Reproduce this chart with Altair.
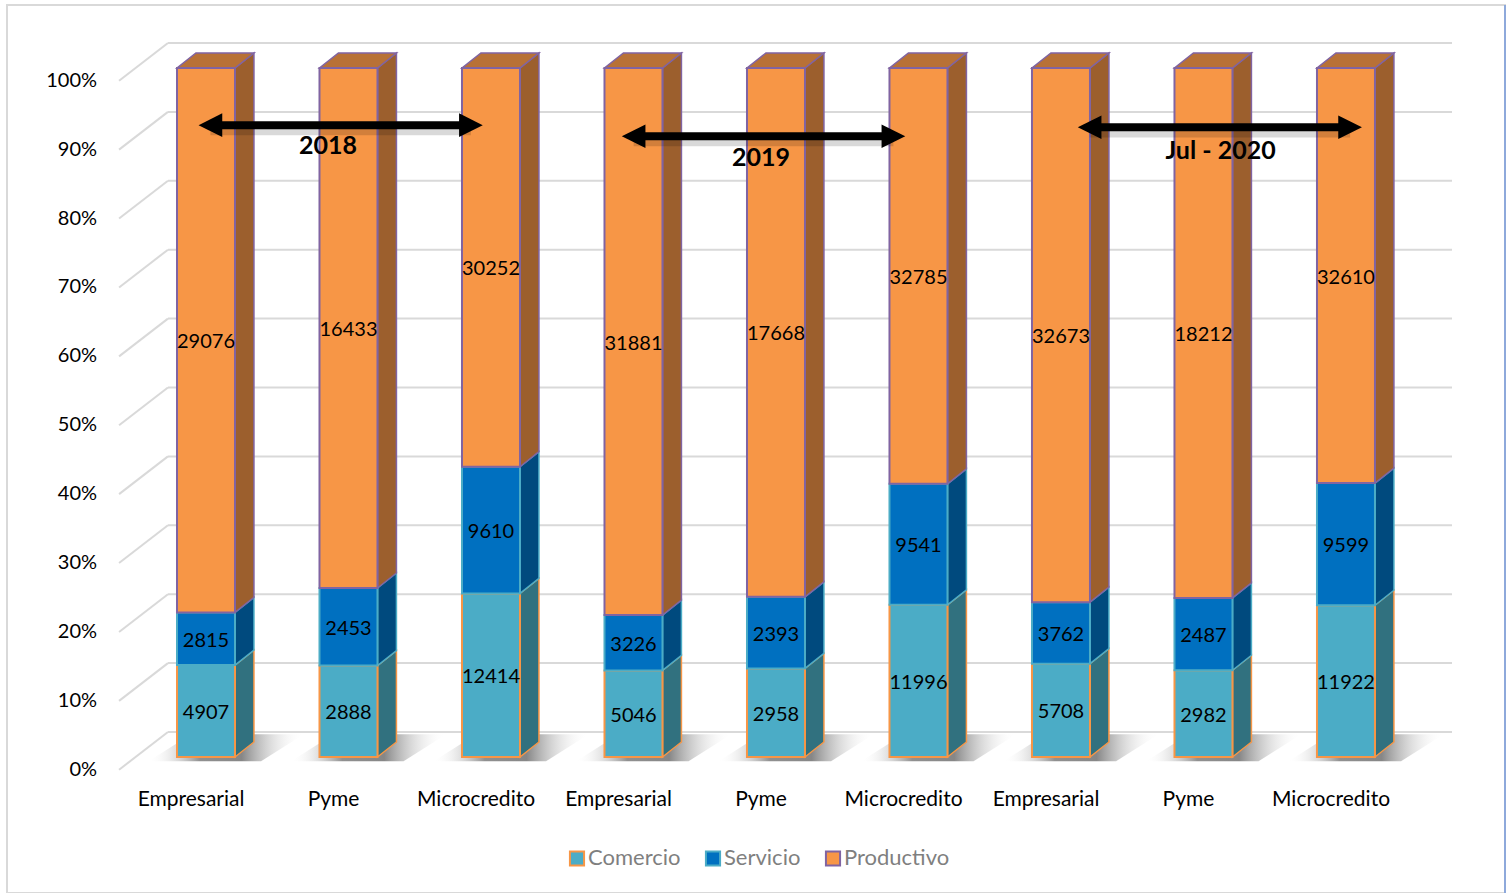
import altair as alt
import pandas as pd

# ---- data -------------------------------------------------------------
categories = ["Empresarial", "Pyme", "Microcredito"] * 3
comercio = [4907, 2888, 12414, 5046, 2958, 11996, 5708, 2982, 11922]
servicio = [2815, 2453, 9610, 3226, 2393, 9541, 3762, 2487, 9599]
productivo = [29076, 16433, 30252, 31881, 17668, 32785, 32673, 18212, 32610]

series_names = ["Comercio", "Servicio", "Productivo"]
front_colors = ["#4BACC6", "#0070C0", "#F79646"]
side_colors = ["#31717F", "#004A7E", "#9C5F2D"]
edge_colors = ["#F79646", "#4BACC6", "#8064A2"]
top_color = "#B87136"

# period annotations: label, arrow start/end (bar units), arrow level, text x, text level
period_labels = ["2018", "2019", "Jul - 2020"]
arrow_start = [-0.05, 2.92, 6.12]
arrow_end = [1.94, 4.905, 8.11]
arrow_level = [0.917, 0.901, 0.914]
text_x = [0.856, 3.895, 7.12]
text_level = [0.887, 0.869, 0.880]

tick_values = [i / 10 for i in range(11)]

# ---- pseudo-3D geometry (in scale units) ------------------------------
HALF = 0.2035            # half width of a front face
DX, DY = 0.133, 0.0218   # depth of the boxes
BACK_DY = 0.0363         # back-wall grid offset
DIAG_X0, BACK_X0, BACK_X1 = -0.61, -0.267, 8.744
LABEL_DY = -0.0185

X_DOMAIN = [-1.3965, 9.116]
Y_DOMAIN = [-0.19739, 1.09144]
xs = alt.Scale(domain=X_DOMAIN, nice=False, zero=False)
ys = alt.Scale(domain=Y_DOMAIN, nice=False, zero=False)
X = lambda f: alt.X(f, type="quantitative", scale=xs, axis=None)
Y = lambda f: alt.Y(f, type="quantitative", scale=ys, axis=None)

front_rows, side_rows, top_rows, shadow_rows = [], [], [], []
for i, cat in enumerate(categories):
    vals = [comercio[i], servicio[i], productivo[i]]
    total = sum(vals)
    xl, xr = i - HALF, i + HALF
    acc = 0.0
    for s, v in enumerate(vals):
        y0 = acc / total
        acc += v
        y1 = acc / total
        front_rows.append(dict(bar=i, cat=cat, Series=series_names[s], value=v,
                               xl=xl, xr=xr, xc=float(i), y0=y0, y1=y1,
                               ym=(y0 + y1) / 2))
        seg = f"{i}-{s}"
        for x, lo, hi in [(xr, y0, y1), (xr + DX, y0 + DY, y1 + DY)]:
            side_rows.append(dict(seg=seg, x=x, lo=lo, hi=hi,
                                  fill=side_colors[s], edge=edge_colors[s]))
    for x, lo, hi in [(xl, 1, 1), (xl + DX, 1, 1 + DY), (xr, 1, 1 + DY),
                      (xr + DX, 1 + DY, 1 + DY)]:
        top_rows.append(dict(bar=i, x=x, lo=lo, hi=hi))
    # floor shadow: a sheared footprint behind and to the right of the box
    s_lo, s_hi = -0.006, 0.033
    for x, lo, hi in [(xl - 0.2, s_lo, s_lo), (xl + 0.1, s_lo, s_hi),
                      (xr + DX + 0.05, s_lo, s_hi), (xr + DX + 0.35, s_hi, s_hi)]:
        shadow_rows.append(dict(bar=i, x=x, lo=lo, hi=hi))

front = pd.DataFrame(front_rows)
side = pd.DataFrame(side_rows)
top = pd.DataFrame(top_rows)
shadow = pd.DataFrame(shadow_rows)

grid = pd.DataFrame(dict(t=tick_values,
                         back=[t + BACK_DY for t in tick_values],
                         front=[t + LABEL_DY for t in tick_values],
                         label=[f"{int(round(t * 100))}%" for t in tick_values]))
grid["x0"], grid["xb"], grid["x1"] = DIAG_X0, BACK_X0, BACK_X1

cats = pd.DataFrame(dict(cat=categories, x=[i - 0.105 for i in range(9)],
                         y=[-0.062] * 9))

arrows = pd.DataFrame(dict(label=period_labels, a=arrow_start, b=arrow_end,
                           y=arrow_level, tx=text_x, ty=text_level))
arrows["ha"] = arrows["a"] + 0.081
arrows["hb"] = arrows["b"] - 0.081
arrows["ys"] = arrows["y"] - 0.006

FONT = "Lato"

# ---- layers -----------------------------------------------------------
back_grid = alt.Chart(grid).mark_rule(color="#D9D9D9", strokeWidth=2).encode(
    x=X("xb"), x2="x1", y=Y("back"))
diag_grid = alt.Chart(grid).mark_rule(color="#D9D9D9", strokeWidth=2).encode(
    x=X("x0"), x2="xb", y=Y("front"), y2="back")
y_labels = alt.Chart(grid).mark_text(font=FONT, fontSize=20, align="right",
                                     baseline="middle", dx=-22, color="#000000").encode(
    x=X("x0"), y=Y("front"), text="label:N")

shadow_layer = alt.Chart(shadow).mark_area(
    fill=alt.Gradient(gradient="linear", x1=0, x2=1, y1=0, y2=0,
                      stops=[alt.GradientStop(color="rgba(255,255,255,0)", offset=0),
                             alt.GradientStop(color="rgba(70,70,70,0.6)", offset=0.33),
                             alt.GradientStop(color="rgba(70,70,70,0.65)", offset=0.6),
                             alt.GradientStop(color="rgba(255,255,255,0)", offset=1)]),
    opacity=1).encode(x=X("x"), y=Y("lo"), y2="hi", detail="bar:N")

side_layer = alt.Chart(side).mark_area(opacity=1, strokeWidth=1.5).encode(
    x=X("x"), y=Y("lo"), y2="hi", detail="seg:N",
    fill=alt.Fill("fill:N", scale=None), stroke=alt.Stroke("edge:N", scale=None))

top_layer = alt.Chart(top).mark_area(opacity=1, fill=top_color, stroke="#8064A2",
                                     strokeWidth=1.5).encode(
    x=X("x"), y=Y("lo"), y2="hi", detail="bar:N")

legend = alt.Legend(title=None, orient="none", legendX=559, legendY=842,
                    direction="horizontal", symbolType="square", symbolSize=200,
                    symbolStrokeWidth=2, labelFont=FONT, labelFontSize=22,
                    labelColor="#7F7F7F", labelOffset=0, columnPadding=20,
                    padding=0)
front_layer = alt.Chart(front).mark_rect(strokeWidth=2).encode(
    x=X("xl"), x2="xr", y=Y("y0"), y2="y1",
    fill=alt.Fill("Series:N", scale=alt.Scale(domain=series_names, range=front_colors),
                  sort=series_names, legend=legend),
    stroke=alt.Stroke("Series:N", scale=alt.Scale(domain=series_names, range=edge_colors),
                      sort=series_names, legend=legend),
)

value_labels = alt.Chart(front).mark_text(font=FONT, fontSize=20, color="#000000",
                                          baseline="middle", dy=2).encode(
    x=X("xc"), y=Y("ym"), text="value:Q")

cat_labels = alt.Chart(cats).mark_text(font=FONT, fontSize=21, color="#000000",
                                       baseline="middle").encode(
    x=X("x"), y=Y("y"), text="cat:N")

arrow_shadow = alt.Chart(arrows).mark_rule(color="#000000", opacity=0.15,
                                           strokeWidth=12).encode(
    x=X("ha"), x2="hb", y=Y("ys"))
arrow_shaft = alt.Chart(arrows).mark_rule(color="#000000", strokeWidth=8).encode(
    x=X("ha"), x2="hb", y=Y("y"))
head_left = alt.Chart(arrows).mark_point(shape="M-1,0L1,-1L1,1Z", size=560, filled=True,
                                         color="#000000", opacity=1).encode(
    x=X("ha"), y=Y("y"))
head_right = alt.Chart(arrows).mark_point(shape="M1,0L-1,-1L-1,1Z", size=560, filled=True,
                                          color="#000000", opacity=1).encode(
    x=X("hb"), y=Y("y"))
year_labels = alt.Chart(arrows).mark_text(font=FONT, fontSize=25, fontWeight="bold",
                                          color="#000000", baseline="middle").encode(
    x=X("tx"), y=Y("ty"), text="label:N")

right_edge = alt.Chart(pd.DataFrame(dict(x=[X_DOMAIN[1]]))).mark_rule(
    color="#8EA9DB", strokeWidth=2).encode(x=X("x"))

chart = alt.layer(
    back_grid, diag_grid, shadow_layer, side_layer, top_layer, front_layer,
    value_labels, cat_labels, y_labels, arrow_shadow, arrow_shaft, head_left,
    head_right, year_labels, right_edge,
).resolve_scale(fill="independent", stroke="independent").properties(
    width=1498, height=888,
    autosize=alt.AutoSizeParams(type="none"),
    padding={"left": 7, "top": 5, "right": 7, "bottom": 0},
).configure_view(stroke="#D9D9D9", strokeWidth=2)

chart.save("out.html", embed_options={"renderer": "svg", "actions": False})
